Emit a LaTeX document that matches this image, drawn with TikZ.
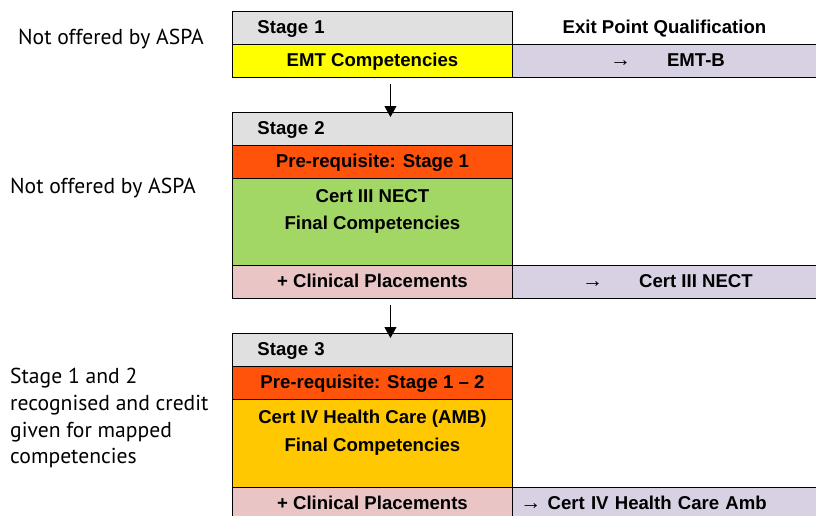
\documentclass[tikz,border=0pt]{standalone}
\usepackage{fontspec}
\setmainfont{Liberation Sans}
\newfontfamily\notefont{PT Sans}
\usetikzlibrary{arrows.meta,calc}
\definecolor{stagegrey}{HTML}{E0E0E0}
\definecolor{emtyellow}{HTML}{FFFF00}
\definecolor{prered}{HTML}{FF520A}
\definecolor{certgreen}{HTML}{A3D765}
\definecolor{certorange}{HTML}{FFC800}
\definecolor{clinpink}{HTML}{EAC5C5}
\definecolor{exitlav}{HTML}{D8D0E3}
\begin{document}
\begin{tikzpicture}[x=1pt,y=-1pt,
  cell/.style={draw=black,line width=0.9pt,anchor=north west,minimum height=33pt,
    inner sep=0pt,text height=14pt,text depth=2.5pt,font=\fontsize{18.6}{27.5}\selectfont\bfseries},
  lcell/.style={cell,minimum width=280pt},
  stagecell/.style={lcell,fill=stagegrey,align=left,text width=230pt,inner xsep=25pt},
  xcell/.style={cell,fill=exitlav,minimum width=310pt},
  celltext/.style={font=\fontsize{18.6}{27.5}\selectfont\bfseries,align=center,anchor=north,inner sep=0pt},
  note/.style={anchor=north west,inner sep=0pt,align=left,
    font=\notefont\fontsize{21.6}{26.8}\selectfont},
  flow/.style={line width=0.9pt,-{Triangle[width=12pt,length=11pt]}}
]
\useasboundingbox (0,0) rectangle (816,515);
% Stage 1
\node[stagecell] (s1) at (232,11) {Stage 1};
\node[cell,draw=none,minimum width=304pt] (exh) at (512,11) {Exit Point Qualification};
\node[lcell,fill=emtyellow] (emt) at (232,44) {EMT Competencies};
\node[xcell] (x1) at (512,44) {{\mdseries\fontsize{21}{27}\selectfont →}\hspace{36pt}EMT-B};
% Stage 2
\node[stagecell] (s2) at (232,112) {Stage 2};
\node[lcell,fill=prered] (p2) at (232,145) {Pre-requisite: Stage 1};
\node[lcell,fill=certgreen,minimum height=87pt] (c2) at (232,178) {};
\node[celltext] (c2t) at ($(c2.north)+(0,11)$) {Cert III NECT\\Final Competencies};
\node[lcell,fill=clinpink] (cl2) at (232,265) {+ Clinical Placements};
\node[xcell] (x2) at (512,265) {{\mdseries\fontsize{21}{27}\selectfont →}\hspace{36pt}Cert III NECT};
% Stage 3
\node[stagecell] (s3) at (232,333) {Stage 3};
\node[lcell,fill=prered] (p3) at (232,366) {Pre-requisite: Stage 1 – 2};
\node[lcell,fill=certorange,minimum height=88pt] (c3) at (232,399) {};
\node[celltext] (c3t) at ($(c3.north)+(0,11)$) {Cert IV Health Care (AMB)\\Final Competencies};
\node[lcell,fill=clinpink] (cl3) at (232,487) {+ Clinical Placements};
\node[xcell,align=left,text width=294pt,inner xsep=8pt] (x3) at (512,487)
      {{\mdseries\fontsize{21}{27}\selectfont →} Cert IV Health Care Amb};
% flow arrows
\draw[flow] ([xshift=18pt,yshift=-6pt]emt.south) -- ([xshift=18pt,yshift=-5pt]s2.north);
\draw[flow] ([xshift=18pt,yshift=-6pt]cl2.south) -- ([xshift=18pt,yshift=-5pt]s3.north);
% notes
\node[note] (n1) at (18,29) {Not offered by ASPA};
\node[note] (n2) at (10,178) {Not offered by ASPA};
\node[note] (n3) at (10,368) {Stage 1 and 2\\recognised and credit\\given for mapped\\competencies};
\end{tikzpicture}
\end{document}
